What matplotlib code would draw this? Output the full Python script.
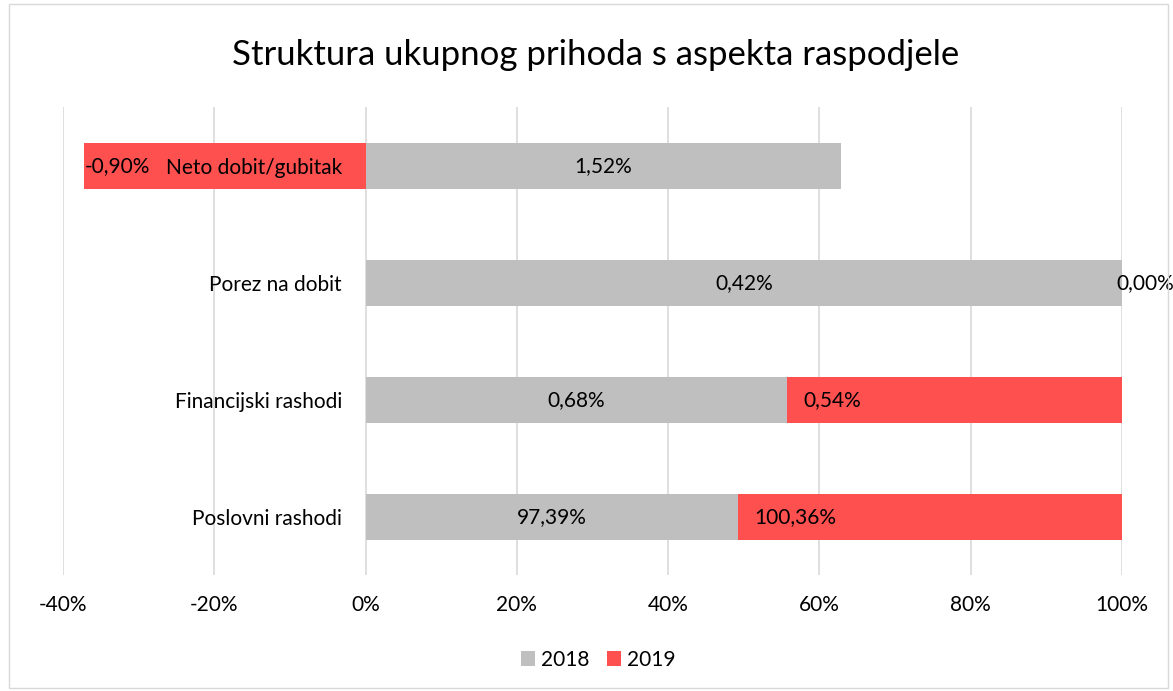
import matplotlib
matplotlib.use("Agg")
import matplotlib.pyplot as plt
from matplotlib.patches import Rectangle
import numpy as np

categories = ["Poslovni rashodi", "Financijski rashodi", "Porez na dobit", "Neto dobit/gubitak"]
values_2018 = [97.39, 0.68, 0.42, 1.52]
values_2019 = [100.36, 0.54, 0.00, -0.90]
labels_2018 = ["97,39%", "0,68%", "0,42%", "1,52%"]
labels_2019 = ["100,36%", "0,54%", "0,00%", "-0,90%"]
x_ticks = [-40, -20, 0, 20, 40, 60, 80, 100]

plt.rcParams['font.family'] = ['Lato', 'DejaVu Sans']

v18 = np.array(values_2018)
v19 = np.array(values_2019)
tot = np.abs(v18) + np.abs(v19)
s18 = v18 / tot * 100
s19 = v19 / tot * 100

GREY = "#bfbfbf"
RED = "#ff5050"

fig = plt.figure(figsize=(11.73, 6.91), dpi=100)
fig.patches.append(Rectangle((0.008, 0.004), 0.988, 0.99, transform=fig.transFigure,
                             fill=False, edgecolor="#d9d9d9", linewidth=1))
ax = fig.add_axes([0.0537, 0.1672, 0.9028, 0.6773])

y = np.arange(len(categories))
h = 0.4
ax.barh(y, s18, left=0, height=h, color=GREY, label="2018", zorder=1)
left19 = np.where(s19 >= 0, np.where(s18 > 0, s18, 0), 0)
ax.barh(y, s19, left=left19, height=h, color=RED, label="2019", zorder=1)

fs = 15
for i in range(len(categories)):
    ax.text(s18[i] / 2, y[i], labels_2018[i], ha="center", va="center", fontsize=fs, zorder=5)
    if s19[i] > 0:
        ax.annotate(labels_2019[i], (left19[i], y[i]), xytext=(11.5, 0), textcoords="offset points",
                    ha="left", va="center", fontsize=fs, zorder=5)
    elif s19[i] == 0:
        ax.annotate(labels_2019[i], (left19[i], y[i]), xytext=(-4, 0), textcoords="offset points",
                    ha="left", va="center", fontsize=fs, zorder=5)
    else:
        ax.annotate(labels_2019[i], (s19[i], y[i]), xytext=(0.5, 0), textcoords="offset points",
                    ha="left", va="center", fontsize=fs, zorder=5)

ax.set_xlim(-40, 100)
ax.set_ylim(-0.5, 3.5)
ax.spines['left'].set_position(('data', 0))
for s in ax.spines.values():
    s.set_visible(False)
ax.set_xticks(x_ticks)
ax.set_xticklabels([f"{t}%" for t in x_ticks])
ax.set_yticks(y)
ax.set_yticklabels(categories)
ax.tick_params(axis='y', length=0, pad=17, labelsize=fs)
ax.tick_params(axis='x', length=0, pad=14, labelsize=fs)
ax.grid(axis='x', color="#d9d9d9", linewidth=1.2)
ax.set_axisbelow(True)
ax.xaxis.set_zorder(0.5)
ax.yaxis.set_zorder(3)

fig.text(0.508, 1 - 55 / 691, "Struktura ukupnog prihoda s aspekta raspodjele", fontsize=25,
         ha="center", va="center")
fig.legend(loc="center", bbox_to_anchor=(0.51, 0.045), ncol=2, frameon=False, fontsize=fs,
           handlelength=0.7, handleheight=0.7, handletextpad=0.3, columnspacing=0.8)

fig.savefig("out.png", dpi=100)
